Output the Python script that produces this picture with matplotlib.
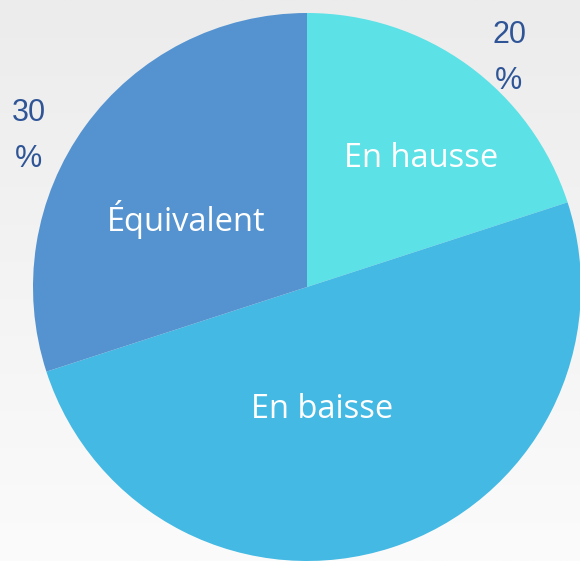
import matplotlib.pyplot as plt
import numpy as np

# data
categories = ['En hausse', 'En baisse', 'Équivalent']
shares = [20, 50, 30]
colors = ['#5CE1E6', '#43B9E3', '#5493D0']

# layout in pixel units (figure is 580 x 561)
W, H = 580, 561
center = (307, H - 287)
radius = 274
inner_pos = [(421, H - 158), (322, H - 409), (186, H - 219)]
outer_pos = {'En hausse': (509, H - 58), 'Équivalent': (29, H - 136)}

fig = plt.figure(figsize=(W / 100, H / 100), dpi=100)
ax = fig.add_axes([0, 0, 1, 1])

# faded background
grad = np.linspace(0, 1, 256).reshape(-1, 1)
ax.imshow(grad, extent=[0, W, 0, H], cmap=plt.matplotlib.colors.LinearSegmentedColormap.from_list(
    'bg', ['#fbfbfb', '#ececec']), origin='lower', aspect='auto', zorder=0)

wedges, _ = ax.pie(shares, colors=colors, startangle=90, counterclock=False,
                   center=center, radius=radius, frame=True,
                   wedgeprops=dict(linewidth=0))
for w in wedges:
    w.set_zorder(2)

for cat, (x, y) in zip(categories, inner_pos):
    ax.text(x, y, cat, color='white', fontsize=23.5, family='Open Sans',
            ha='center', va='center', zorder=3)

for cat, val in zip(categories, shares):
    if cat in outer_pos:
        x, y = outer_pos[cat]
        ax.text(x, y, f'{val}\n%', color='#2F5597', fontsize=22,
                family='Liberation Sans', ha='center', va='center',
                linespacing=1.7, zorder=3)

ax.set_xlim(0, W)
ax.set_ylim(0, H)
ax.set_aspect('equal')
ax.axis('off')

fig.savefig('out.png', dpi=100)
